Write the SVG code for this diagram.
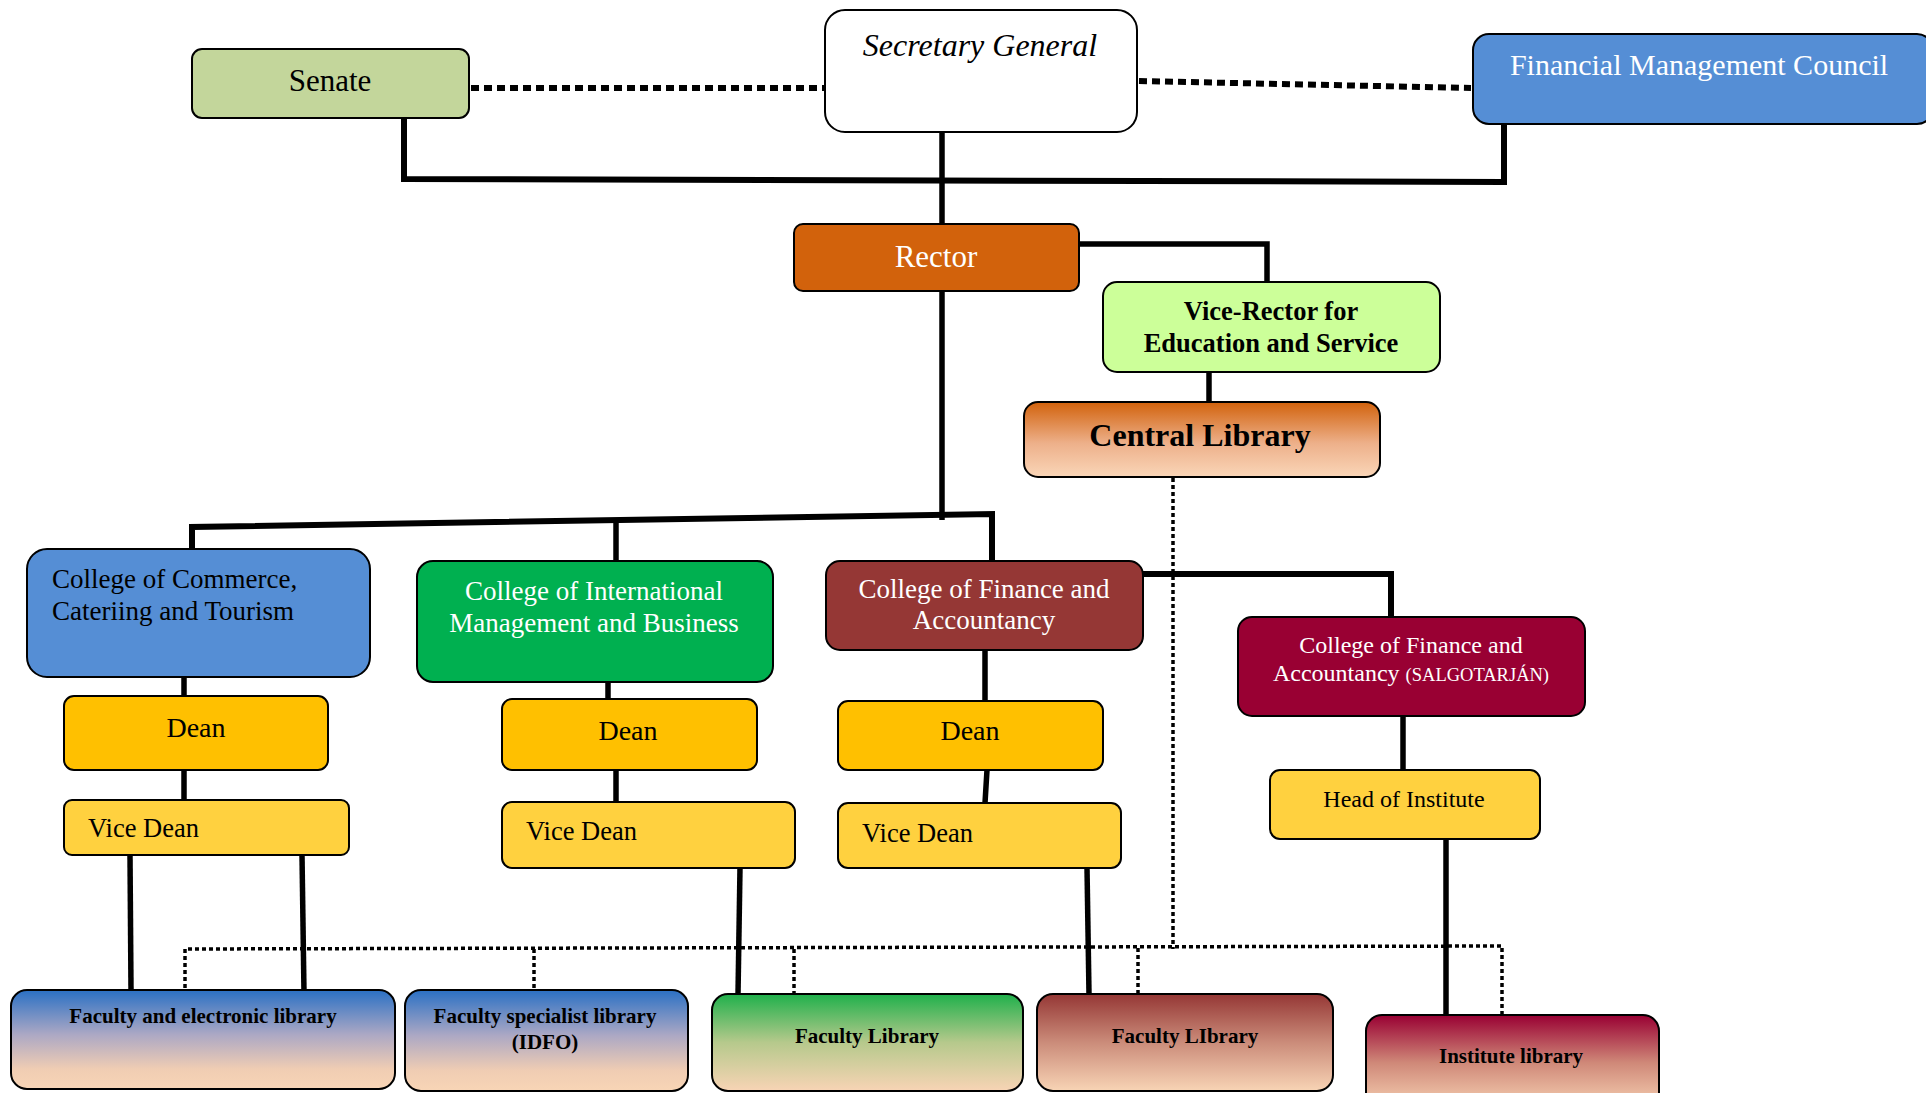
<svg xmlns="http://www.w3.org/2000/svg" width="1926" height="1093" viewBox="0 0 1926 1093">
  <defs>
    <linearGradient id="gOrange" x1="0" y1="0" x2="0" y2="1">
      <stop offset="0" stop-color="#D2620C"/>
      <stop offset="0.55" stop-color="#EDB08A"/>
      <stop offset="1" stop-color="#FAD6B8"/>
    </linearGradient>
    <linearGradient id="gBlue" x1="0" y1="0" x2="0" y2="1">
      <stop offset="0" stop-color="#2A70C4"/>
      <stop offset="0.45" stop-color="#ACA8C4"/>
      <stop offset="0.8" stop-color="#F0CDB3"/>
      <stop offset="1" stop-color="#F8D5B6"/>
    </linearGradient>
    <linearGradient id="gGreen" x1="0" y1="0" x2="0" y2="1">
      <stop offset="0" stop-color="#1FB04B"/>
      <stop offset="0.5" stop-color="#B6C98C"/>
      <stop offset="1" stop-color="#F8D4B5"/>
    </linearGradient>
    <linearGradient id="gMaroon" x1="0" y1="0" x2="0" y2="1">
      <stop offset="0" stop-color="#953735"/>
      <stop offset="0.5" stop-color="#CB8C7A"/>
      <stop offset="1" stop-color="#F8D4B5"/>
    </linearGradient>
    <linearGradient id="gCrimson" x1="0" y1="0" x2="0" y2="1">
      <stop offset="0" stop-color="#990033"/>
      <stop offset="0.5" stop-color="#CF8878"/>
      <stop offset="1" stop-color="#F8D4B5"/>
    </linearGradient>
  </defs>
  <style>
    .box { stroke: #000; stroke-width: 2; }
    text { font-family: "Liberation Serif", "Times New Roman", serif; fill: #000; }
    .w { fill: #fff; }
    .c { text-anchor: middle; }
    .b { font-weight: bold; }
    .solid { fill: none; stroke: #000; stroke-width: 5.5; }
    .thick { fill: none; stroke: #000; stroke-width: 6; }
    .dotBig { fill: none; stroke: #000; stroke-width: 6; stroke-dasharray: 8 5; }
    .dot { fill: none; stroke: #000; stroke-width: 3.5; stroke-dasharray: 4 3; }
  </style>

  <rect width="1926" height="1093" fill="#fff"/>

  <!-- connectors -->
  <g id="connectors">
    <!-- advisory links beside the Secretary General -->
    <path class="dotBig" d="M471,88 L824,88"/>
    <path class="dotBig" d="M1139,81 L1471,88"/>
    <!-- Senate / SG / Council bus -->
    <path class="thick" d="M404,118 V182 M404,179 L1504,182 M1504,124 V185"/>
    <path class="solid" d="M942,132 V224"/>
    <!-- Rector down to colleges -->
    <path class="solid" d="M942,291 V520"/>
    <path class="thick" d="M192,549 V527 L992,514 V562"/>
    <path class="solid" d="M616,520 V561"/>
    <!-- Rector to Vice-Rector to Central Library -->
    <path class="solid" d="M1079,244 H1267 V282"/>
    <path class="solid" d="M1209,372 V402"/>
    <!-- college chains -->
    <path class="solid" d="M184,677 V696 M184,770 V800"/>
    <path class="solid" d="M608,682 V706 M616,770 V802"/>
    <path class="solid" d="M985,650 V701 M987,770 L985,803"/>
    <path class="thick" d="M1143,574 H1391 V617"/>
    <path class="solid" d="M1403,716 V770"/>
    <!-- heads down to libraries -->
    <path class="solid" d="M130,855 L131,990"/>
    <path class="solid" d="M302,855 L304,993"/>
    <path class="solid" d="M740,868 L738,994"/>
    <path class="solid" d="M1087,868 L1089,994"/>
    <path class="solid" d="M1446,840 V1015"/>
    <!-- Central Library dotted distribution -->
    <path class="dot" d="M1173,478 V949"/>
    <path class="dot" d="M185,988 V949 L1502,946 V1014"/>
    <path class="dot" d="M534,949 V989"/>
    <path class="dot" d="M794,949 V1016"/>
    <path class="dot" d="M1138,948 V993"/>
  </g>

  <!-- top level -->
  <g id="senate">
    <rect class="box" x="192" y="49" width="277" height="69" rx="10" fill="#C3D69B"/>
    <text class="c" x="330" y="91" font-size="31">Senate</text>
  </g>
  <g id="secretary-general">
    <rect class="box" x="825" y="10" width="312" height="122" rx="20" fill="#fff"/>
    <text class="c" x="980" y="56" font-size="32" font-style="italic">Secretary General</text>
  </g>
  <g id="financial-council">
    <rect class="box" x="1473" y="34" width="460" height="90" rx="16" fill="#558ED5"/>
    <text class="c w" x="1699" y="75" font-size="30">Financial Management Council</text>
  </g>

  <g id="rector">
    <rect class="box" x="794" y="224" width="285" height="67" rx="9" fill="#D2620C"/>
    <text class="c w" x="936" y="267" font-size="31">Rector</text>
  </g>
  <g id="vice-rector">
    <rect class="box" x="1103" y="282" width="337" height="90" rx="14" fill="#CCFF99"/>
    <text class="c b" x="1271" y="320" font-size="26.5">Vice-Rector for</text>
    <text class="c b" x="1271" y="352" font-size="26.5">Education and Service</text>
  </g>
  <g id="central-library">
    <rect class="box" x="1024" y="402" width="356" height="75" rx="14" fill="url(#gOrange)"/>
    <text class="c b" x="1200" y="446" font-size="32">Central Library</text>
  </g>

  <!-- colleges -->
  <g id="college-commerce">
    <rect class="box" x="27" y="549" width="343" height="128" rx="20" fill="#558ED5"/>
    <text x="52" y="588" font-size="27">College of Commerce,</text>
    <text x="52" y="620" font-size="27">Cateriing and Tourism</text>
  </g>
  <g id="college-international">
    <rect class="box" x="417" y="561" width="356" height="121" rx="16" fill="#00B050"/>
    <text class="c w" x="594" y="600" font-size="27">College of International</text>
    <text class="c w" x="594" y="632" font-size="27">Management and Business</text>
  </g>
  <g id="college-finance">
    <rect class="box" x="826" y="561" width="317" height="89" rx="14" fill="#953735"/>
    <text class="c w" x="984" y="598" font-size="27">College of Finance and</text>
    <text class="c w" x="984" y="629" font-size="27">Accountancy</text>
  </g>
  <g id="college-finance-salgotarjan">
    <rect class="box" x="1238" y="617" width="347" height="99" rx="14" fill="#990033"/>
    <text class="c w" x="1411" y="653" font-size="24">College of Finance and</text>
    <text class="c w" x="1411" y="681" font-size="24">Accountancy <tspan font-size="18.5">(SALGOTARJÁN)</tspan></text>
  </g>

  <!-- deans -->
  <g id="dean-commerce">
    <rect class="box" x="64" y="696" width="264" height="74" rx="10" fill="#FFC000"/>
    <text class="c" x="196" y="737" font-size="28">Dean</text>
  </g>
  <g id="dean-international">
    <rect class="box" x="502" y="699" width="255" height="71" rx="10" fill="#FFC000"/>
    <text class="c" x="628" y="740" font-size="28">Dean</text>
  </g>
  <g id="dean-finance">
    <rect class="box" x="838" y="701" width="265" height="69" rx="10" fill="#FFC000"/>
    <text class="c" x="970" y="740" font-size="28">Dean</text>
  </g>

  <!-- vice deans / head of institute -->
  <g id="vice-dean-commerce">
    <rect class="box" x="64" y="800" width="285" height="55" rx="8" fill="#FFD13F"/>
    <text x="88" y="837" font-size="26.5">Vice Dean</text>
  </g>
  <g id="vice-dean-international">
    <rect class="box" x="502" y="802" width="293" height="66" rx="10" fill="#FFD13F"/>
    <text x="526" y="840" font-size="26.5">Vice Dean</text>
  </g>
  <g id="vice-dean-finance">
    <rect class="box" x="838" y="803" width="283" height="65" rx="10" fill="#FFD13F"/>
    <text x="862" y="842" font-size="26.5">Vice Dean</text>
  </g>
  <g id="head-of-institute">
    <rect class="box" x="1270" y="770" width="270" height="69" rx="10" fill="#FFD13F"/>
    <text class="c" x="1404" y="807" font-size="24">Head of Institute</text>
  </g>

  <!-- libraries -->
  <g id="faculty-electronic-library">
    <rect class="box" x="11" y="990" width="384" height="99" rx="16" fill="url(#gBlue)"/>
    <text class="c b" x="203" y="1023" font-size="21">Faculty and electronic library</text>
  </g>
  <g id="faculty-specialist-library">
    <rect class="box" x="405" y="990" width="283" height="101" rx="16" fill="url(#gBlue)"/>
    <text class="c b" x="545" y="1023" font-size="21">Faculty specialist library</text>
    <text class="c b" x="545" y="1049" font-size="21">(IDFO)</text>
  </g>
  <g id="faculty-library-international">
    <rect class="box" x="712" y="994" width="311" height="97" rx="16" fill="url(#gGreen)"/>
    <text class="c b" x="867" y="1043" font-size="21">Faculty Library</text>
  </g>
  <g id="faculty-library-finance">
    <rect class="box" x="1037" y="994" width="296" height="97" rx="16" fill="url(#gMaroon)"/>
    <text class="c b" x="1185" y="1043" font-size="21">Faculty LIbrary</text>
  </g>
  <g id="institute-library">
    <rect class="box" x="1366" y="1015" width="293" height="95" rx="16" fill="url(#gCrimson)"/>
    <text class="c b" x="1511" y="1063" font-size="21">Institute library</text>
  </g>
</svg>
